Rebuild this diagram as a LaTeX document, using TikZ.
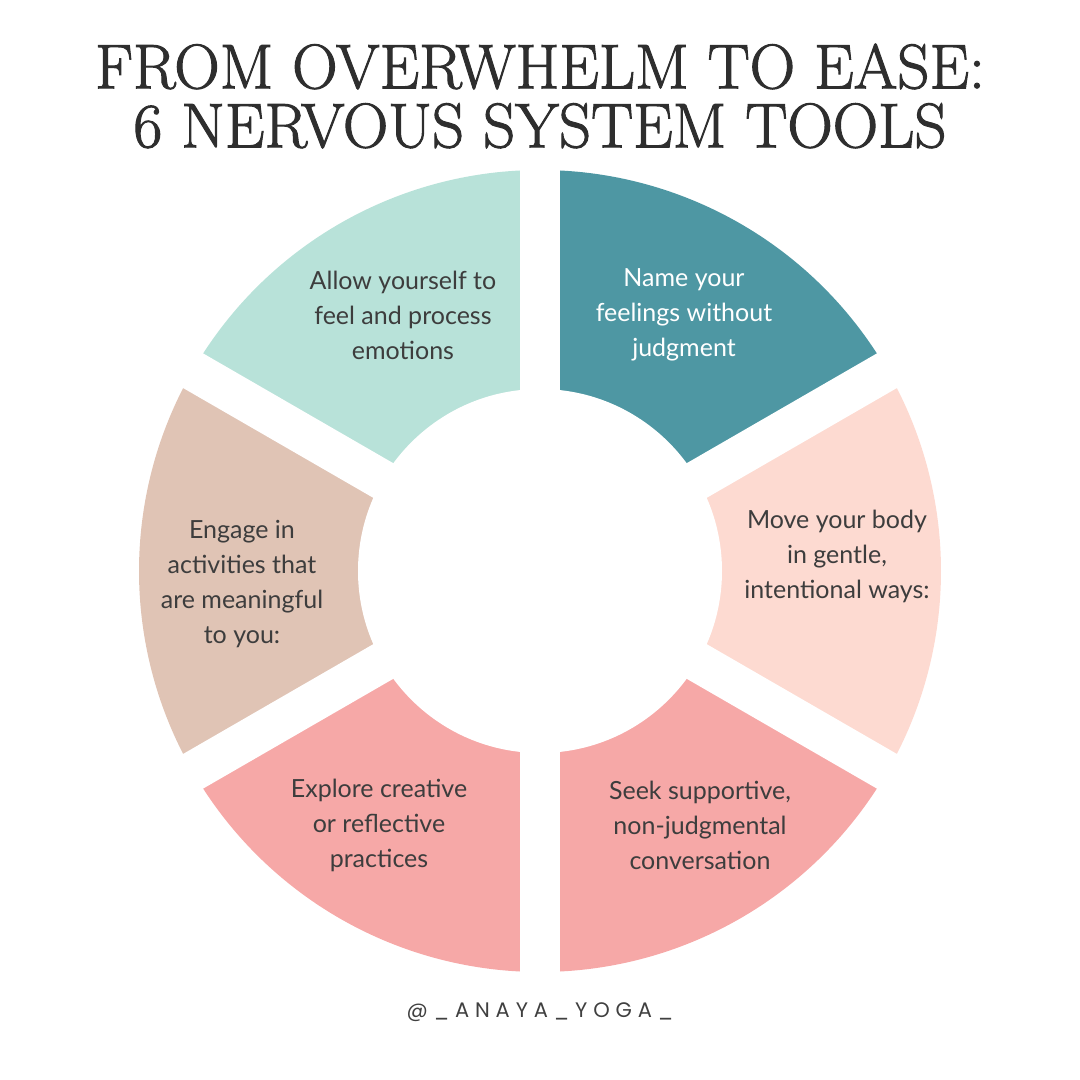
\documentclass[tikz,border=0pt]{standalone}
\usepackage{fontspec}
\setmainfont{Latin Modern Roman}
\newfontfamily\titlefont[FakeBold=1.6]{Latin Modern Roman}
\newfontfamily\latofont{Lato}
\newfontfamily\handlefont[LetterSpace=28]{Poppins}

\definecolor{mint}{HTML}{B8E2D9}
\definecolor{teal}{HTML}{4E97A3}
\definecolor{peach}{HTML}{FDDAD1}
\definecolor{rosy}{HTML}{F6A8A7}
\definecolor{sand}{HTML}{E0C4B5}
\definecolor{ink}{HTML}{3D3D3D}

\tikzset{%
  heading/.style={align=center, text=black!82, font=\fontsize{63}{59}\selectfont\titlefont},
  tool/.style={align=center, text=ink, inner sep=0pt, font=\fontsize{25}{35}\selectfont\latofont},
  handle/.style={text=black!75, font=\fontsize{21}{24}\selectfont\handlefont},
  gap/.style={draw=white, line width=40pt},
}

\begin{document}
\begin{tikzpicture}[x=1pt, y=1pt]
\useasboundingbox (0,0) rectangle (1080,1080);
\coordinate (c) at (540,509);
% ring of six segments
\fill[teal]  (c) -- ++(30:401)  arc (30:90:401)   -- cycle;
\fill[mint]  (c) -- ++(90:401)  arc (90:150:401)  -- cycle;
\fill[sand]  (c) -- ++(150:401) arc (150:210:401) -- cycle;
\fill[rosy]  (c) -- ++(210:401) arc (210:270:401) -- cycle;
\fill[rosy]  (c) -- ++(270:401) arc (270:330:401) -- cycle;
\fill[peach] (c) -- ++(-30:401) arc (-30:30:401)  -- cycle;
\fill[white] (c) circle (182);
\foreach \a in {30,90,...,330}
  \draw[gap] (c) -- ++(\a:420);

\node[heading] (title) at (540,984) {FROM OVERWHELM TO EASE:\\6 NERVOUS SYSTEM TOOLS};

\node[tool] (allow)   at (403,765) {Allow yourself to\\feel and process\\emotions};
\node[tool,text=white] (name) at (684,765) {Name your\\feelings without\\judgment};
\node[tool] (move)    at (837,524) {Move your body\\in gentle,\\intentional ways:};
\node[tool] (engage)  at (242,496) {Engage in\\activities that\\are meaningful\\to you:};
\node[tool] (explore) at (379,255) {Explore creative\\or reflective\\practices};
\node[tool] (seek)    at (700,255) {Seek supportive,\\non-judgmental\\conversation};

\node[handle] (insta) at (540,68) {@\_ANAYA\_YOGA\_};
\end{tikzpicture}
\end{document}
